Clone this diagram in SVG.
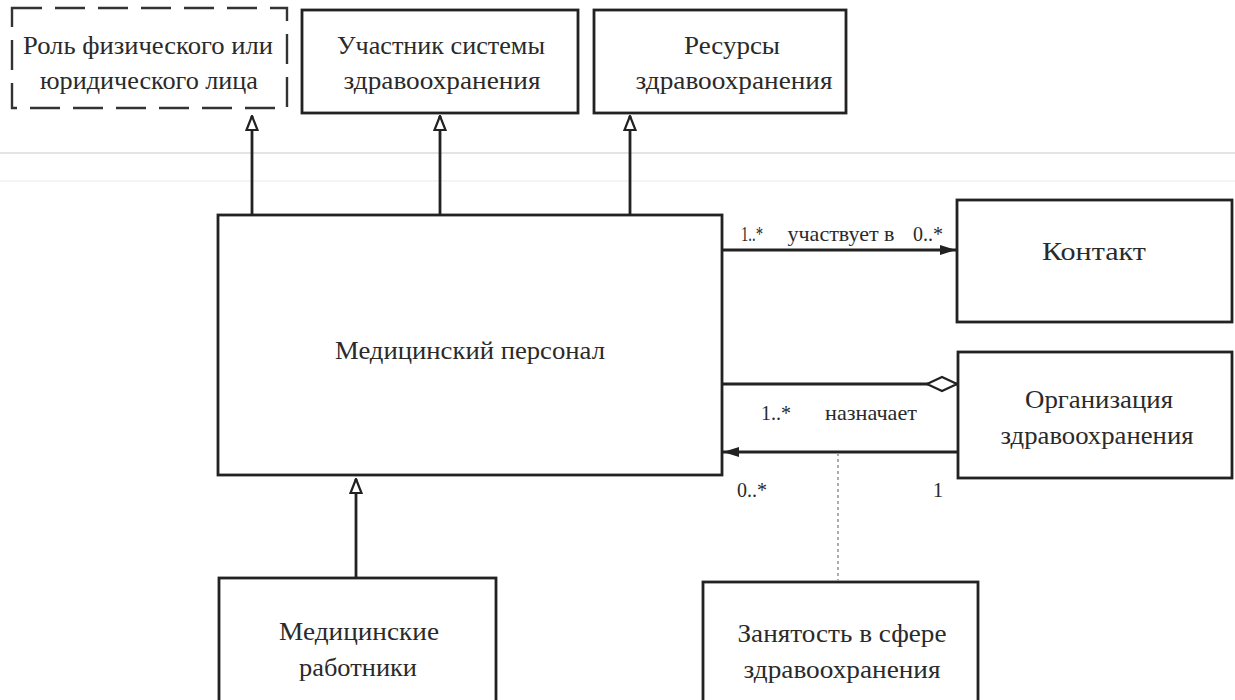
<svg xmlns="http://www.w3.org/2000/svg" width="1235" height="700" viewBox="0 0 1235 700">
  <style>
    .box { fill: #fff; stroke: #222; stroke-width: 2.8; }
    .dash { fill: #fff; stroke: #333; stroke-width: 2.4; stroke-dasharray: 30 13; }
    .lbl { font-family: "Liberation Serif", "DejaVu Serif", serif; font-size: 26px; fill: #2a2a2a; text-anchor: middle; }
    .sm { font-family: "Liberation Serif", "DejaVu Serif", serif; font-size: 21px; fill: #2a2a2a; text-anchor: middle; }
    .ln { stroke: #222; stroke-width: 2.8; fill: none; }
    .dot { stroke: #999; stroke-width: 1.6; stroke-dasharray: 3 3; fill: none; }
  </style>
  <defs>
    <!-- hollow triangle for generalization -->
    <marker id="gen" viewBox="0 0 16 14" refX="15" refY="7" markerWidth="16" markerHeight="14" markerUnits="userSpaceOnUse" orient="auto">
      <path d="M15 7 L1 1.5 L1 12.5 Z" fill="#fff" stroke="#222" stroke-width="2.2" stroke-linejoin="miter"/>
    </marker>
    <!-- filled navigation arrowhead -->
    <marker id="tip" viewBox="0 0 16 12" refX="16" refY="6" markerWidth="16" markerHeight="12" markerUnits="userSpaceOnUse" orient="auto">
      <path d="M0 1 L16 6 L0 11 Z" fill="#222"/>
    </marker>
    <!-- hollow aggregation diamond -->
    <marker id="agg" viewBox="0 0 32 18" refX="31" refY="9" markerWidth="32" markerHeight="18" markerUnits="userSpaceOnUse" orient="auto">
      <path d="M1 9 L16 2 L31 9 L16 16 Z" fill="#fff" stroke="#222" stroke-width="2.2"/>
    </marker>
  </defs>
  <rect width="1235" height="700" fill="#fff"/>
  <!-- faint scan band -->
  <line x1="0" y1="153" x2="1235" y2="153" stroke="#e4e4e4" stroke-width="2"/>
  <line x1="0" y1="181" x2="1235" y2="181" stroke="#f0f0f0" stroke-width="1.5"/>

  <g id="role">
    <rect class="dash" x="12" y="8" width="275" height="100"/>
    <text class="lbl" x="148" y="54" textLength="250" lengthAdjust="spacingAndGlyphs">Роль физического или</text>
    <text class="lbl" x="149" y="89" textLength="218" lengthAdjust="spacingAndGlyphs">юридического лица</text>
  </g>
  <g id="participant">
    <rect class="box" x="302" y="10" width="276" height="103"/>
    <text class="lbl" x="441" y="54" textLength="208" lengthAdjust="spacingAndGlyphs">Участник системы</text>
    <text class="lbl" x="442" y="89" textLength="197" lengthAdjust="spacingAndGlyphs">здравоохранения</text>
  </g>
  <g id="resources">
    <rect class="box" x="594" y="10" width="252" height="103"/>
    <text class="lbl" x="732" y="54" textLength="96" lengthAdjust="spacingAndGlyphs">Ресурсы</text>
    <text class="lbl" x="734" y="89" textLength="197" lengthAdjust="spacingAndGlyphs">здравоохранения</text>
  </g>
  <g id="staff">
    <rect class="box" x="218" y="215" width="504" height="260"/>
    <text class="lbl" x="470" y="359" textLength="270" lengthAdjust="spacingAndGlyphs">Медицинский персонал</text>
  </g>
  <g id="contact">
    <rect class="box" x="957" y="200" width="275" height="122"/>
    <text class="lbl" x="1094" y="260" textLength="104" lengthAdjust="spacingAndGlyphs">Контакт</text>
  </g>
  <g id="organization">
    <rect class="box" x="958" y="352" width="274" height="126"/>
    <text class="lbl" x="1099" y="408" textLength="148" lengthAdjust="spacingAndGlyphs">Организация</text>
    <text class="lbl" x="1097" y="444" textLength="193" lengthAdjust="spacingAndGlyphs">здравоохранения</text>
  </g>
  <g id="workers">
    <rect class="box" x="219" y="578" width="277" height="130"/>
    <text class="lbl" x="359" y="640" textLength="160" lengthAdjust="spacingAndGlyphs">Медицинские</text>
    <text class="lbl" x="358" y="676" textLength="118" lengthAdjust="spacingAndGlyphs">работники</text>
  </g>
  <g id="employment">
    <rect class="box" x="703" y="582" width="275" height="126"/>
    <text class="lbl" x="842" y="642" textLength="209" lengthAdjust="spacingAndGlyphs">Занятость в сфере</text>
    <text class="lbl" x="842" y="678" textLength="197" lengthAdjust="spacingAndGlyphs">здравоохранения</text>
  </g>

  <g id="connectors">
    <!-- generalizations -->
    <line class="ln" x1="252" y1="215" x2="252" y2="116" marker-end="url(#gen)"/>
    <line class="ln" x1="440" y1="215" x2="440" y2="116" marker-end="url(#gen)"/>
    <line class="ln" x1="630" y1="215" x2="630" y2="116" marker-end="url(#gen)"/>
    <line class="ln" x1="356" y1="578" x2="356" y2="479" marker-end="url(#gen)"/>
    <!-- associations -->
    <line class="ln" x1="722" y1="250" x2="956" y2="250" marker-end="url(#tip)"/>
    <line class="ln" x1="722" y1="384" x2="957" y2="384" marker-end="url(#agg)"/>
    <line class="ln" x1="958" y1="452" x2="723" y2="452" marker-end="url(#tip)"/>
    <!-- association class link -->
    <line class="dot" x1="838" y1="453" x2="838" y2="581"/>
    <text class="sm" x="752" y="241" textLength="22" lengthAdjust="spacingAndGlyphs">1..*</text>
    <text class="sm" x="841" y="241" textLength="107" lengthAdjust="spacingAndGlyphs">участвует в</text>
    <text class="sm" x="928" y="241" textLength="30" lengthAdjust="spacingAndGlyphs">0..*</text>
    <text class="sm" x="776" y="420" textLength="30" lengthAdjust="spacingAndGlyphs">1..*</text>
    <text class="sm" x="871" y="420" textLength="92" lengthAdjust="spacingAndGlyphs">назначает</text>
    <text class="sm" x="752" y="497" textLength="30" lengthAdjust="spacingAndGlyphs">0..*</text>
    <text class="sm" x="938" y="497">1</text>
  </g>
</svg>
